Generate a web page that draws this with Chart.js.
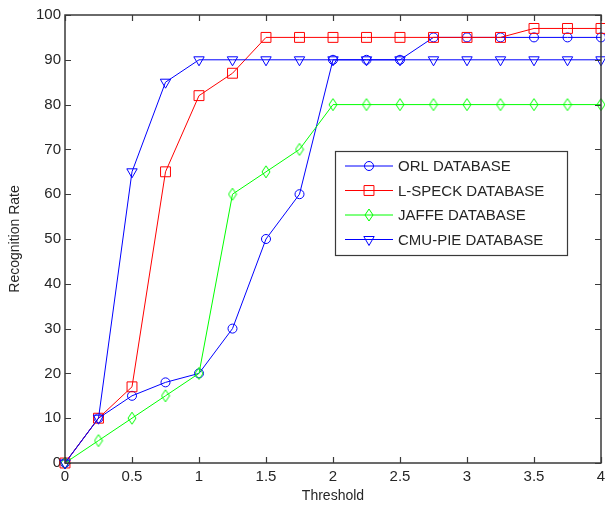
<!DOCTYPE html>
<html>
<head>
<meta charset="utf-8">
<script src="https://cdn.jsdelivr.net/npm/chart.js@4/dist/chart.umd.min.js"></script>
<style>
  html, body { margin: 0; padding: 0; background: #fff; }
  #wrap { width: 605px; height: 512px; }
</style>
</head>
<body>
<div id="wrap"><canvas id="rateChart" width="605" height="512"></canvas></div>
<script>
const thresholds = [0, 0.25, 0.5, 0.75, 1, 1.25, 1.5, 1.75, 2, 2.25, 2.5, 2.75, 3, 3.25, 3.5, 3.75, 4];
const orl    = [0, 10, 15, 18, 20, 30, 50, 60, 90, 90, 90, 95, 95, 95, 95, 95, 95];
const lspeck = [0, 10, 17, 65, 82, 87, 95, 95, 95, 95, 95, 95, 95, 95, 97, 97, 97];
const jaffe  = [0, 5, 10, 15, 20, 60, 65, 70, 80, 80, 80, 80, 80, 80, 80, 80, 80];
const cmupie = [0, 10, 65, 85, 90, 90, 90, 90, 90, 90, 90, 90, 90, 90, 90, 90, 90];
const seriesNames = ['ORL DATABASE', 'L-SPECK DATABASE', 'JAFFE DATABASE', 'CMU-PIE DATABASE'];
const xTicks = [0, 0.5, 1, 1.5, 2, 2.5, 3, 3.5, 4];

const FONT = '"Liberation Sans", Arial, sans-serif';
const TEXT = '#262626';
const FRAME = '#3a3a3a';

// tall, narrow hollow diamond marker
function diamond(color) {
  const c = document.createElement('canvas');
  c.width = 10; c.height = 14;
  const g = c.getContext('2d');
  g.strokeStyle = color;
  g.lineWidth = 1;
  g.beginPath();
  g.moveTo(5, 1); g.lineTo(9, 7); g.lineTo(5, 13); g.lineTo(1, 7);
  g.closePath();
  g.stroke();
  return c;
}

function pts(vals) {
  return thresholds.map((t, i) => ({ x: t, y: vals[i] }));
}

function series(label, vals, color, style, radius, rotation, order) {
  return {
    label: label,
    data: pts(vals),
    borderColor: color,
    backgroundColor: 'rgba(0,0,0,0)',
    borderWidth: 1,
    pointStyle: style,
    pointRadius: radius,
    pointRotation: rotation,
    pointBorderColor: color,
    pointBackgroundColor: 'rgba(0,0,0,0)',
    pointBorderWidth: 1,
    tension: 0,
    clip: false,
    order: order
  };
}

const datasets = [
  series(seriesNames[0], orl, '#0000ff', 'circle', 4.5, 0, 4),
  series(seriesNames[1], lspeck, '#ff0000', 'rect', 7, 0, 3),
  series(seriesNames[2], jaffe, '#00ff00', diamond('#00ff00'), 5, 0, 2),
  series(seriesNames[3], cmupie, '#0000ff', 'triangle', 6, 180, 1)
];

function drawMarker(ctx, ds, x, y) {
  if (ds.pointStyle instanceof HTMLCanvasElement) {
    ctx.drawImage(ds.pointStyle, x - ds.pointStyle.width / 2, y - ds.pointStyle.height / 2);
    return;
  }
  ctx.save();
  ctx.strokeStyle = ds.borderColor;
  ctx.fillStyle = 'rgba(0,0,0,0)';
  ctx.lineWidth = 1;
  Chart.helpers.drawPoint(ctx, { pointStyle: ds.pointStyle, radius: ds.pointRadius, rotation: ds.pointRotation, borderWidth: 1 }, x, y);
  ctx.restore();
}

// axes box with inward ticks on all four sides, x tick labels, and the boxed legend
// (x labels drawn here so the last one may run past the canvas edge like the old figure)
const boxPlugin = {
  id: 'boxPlugin',
  afterDraw(chart) {
    const ctx = chart.ctx;
    const a = chart.chartArea;
    const xs = chart.scales.x, ys = chart.scales.y;
    const tl = 6;
    ctx.save();
    ctx.strokeStyle = FRAME;
    ctx.lineWidth = 1.5;
    ctx.strokeRect(a.left, a.top, a.right - a.left, a.bottom - a.top);
    ctx.lineWidth = 1.2;
    ctx.beginPath();
    xTicks.forEach(v => {
      const px = Math.round(xs.getPixelForValue(v)) + 0.5;
      ctx.moveTo(px, a.bottom); ctx.lineTo(px, a.bottom - tl);
      ctx.moveTo(px, a.top); ctx.lineTo(px, a.top + tl);
    });
    ys.ticks.forEach(t => {
      const py = Math.round(ys.getPixelForValue(t.value)) + 0.5;
      ctx.moveTo(a.left, py); ctx.lineTo(a.left + tl, py);
      ctx.moveTo(a.right, py); ctx.lineTo(a.right - tl, py);
    });
    ctx.stroke();

    ctx.font = '15px ' + FONT;
    ctx.fillStyle = TEXT;
    ctx.textAlign = 'center';
    ctx.textBaseline = 'middle';
    xTicks.forEach(v => {
      ctx.fillText(String(v), xs.getPixelForValue(v), a.bottom + 14);
    });

    // legend
    const lx = 335.5, ly = 151.5, lw = 232, lh = 104;
    ctx.fillStyle = '#fff';
    ctx.fillRect(lx, ly, lw, lh);
    ctx.strokeStyle = FRAME;
    ctx.lineWidth = 1.2;
    ctx.strokeRect(lx, ly, lw, lh);
    ctx.textAlign = 'left';
    chart.data.datasets.forEach((ds, i) => {
      const cy = 166 + i * 24.5;
      ctx.strokeStyle = ds.borderColor;
      ctx.lineWidth = 1;
      ctx.beginPath();
      ctx.moveTo(345, cy); ctx.lineTo(393, cy);
      ctx.stroke();
      drawMarker(ctx, ds, 369, cy);
      ctx.fillStyle = TEXT;
      ctx.fillText(ds.label, 398, cy + 1);
    });
    ctx.restore();
  }
};

new Chart(document.getElementById('rateChart').getContext('2d'), {
  type: 'line',
  data: { datasets: datasets },
  options: {
    responsive: false,
    animation: false,
    events: [],
    layout: { autoPadding: false, padding: { left: 0, top: 15, right: 4, bottom: 0 } },
    plugins: { legend: { display: false }, tooltip: { enabled: false } },
    scales: {
      x: {
        type: 'linear',
        min: 0,
        max: 4,
        afterFit: scale => { scale.height = 49; },
        grid: { display: false, drawTicks: false },
        border: { display: false },
        ticks: { display: false },
        title: { display: true, text: 'Threshold', color: TEXT, font: { family: FONT, size: 14 }, padding: { top: 0, bottom: 7 } }
      },
      y: {
        type: 'linear',
        min: 0,
        max: 100,
        ticks: { stepSize: 10, color: TEXT, font: { family: FONT, size: 15 }, padding: 4 },
        afterFit: scale => { scale.width = 65; },
        grid: { display: false, drawTicks: false },
        border: { display: false },
        title: { display: true, text: 'Recognition Rate', color: TEXT, font: { family: FONT, size: 14 }, padding: { top: 7, bottom: 0 } }
      }
    }
  },
  plugins: [boxPlugin]
});
</script>
</body>
</html>
